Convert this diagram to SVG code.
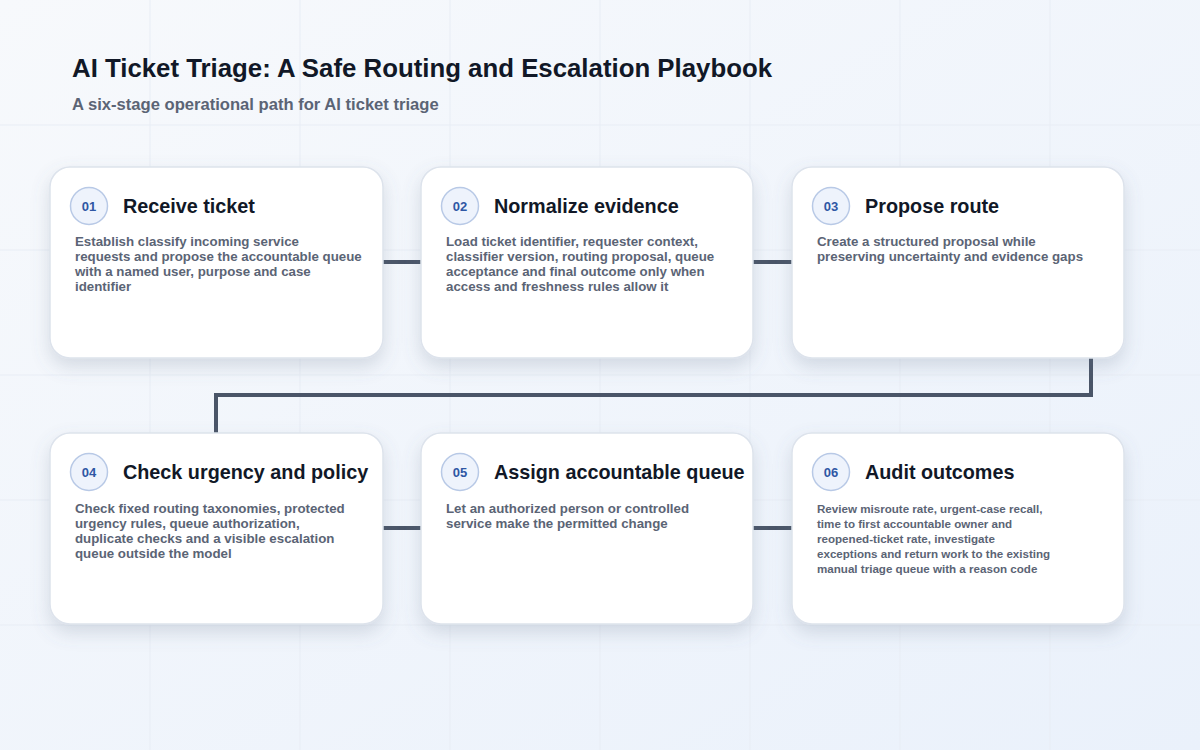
<svg xmlns="http://www.w3.org/2000/svg" width="1200" height="750" viewBox="0 0 1200 750">
<defs>
<linearGradient id="bg" x1="0" y1="0" x2="1" y2="1">
<stop offset="0" stop-color="#f7f9fc"/>
<stop offset="1" stop-color="#eaf1fb"/>
</linearGradient>
<filter id="sh" x="-20%" y="-20%" width="140%" height="150%">
<feGaussianBlur in="SourceAlpha" stdDeviation="9"/>
<feOffset dy="8" result="b"/>
<feFlood flood-color="#64748b" flood-opacity="0.22"/>
<feComposite in2="b" operator="in"/>
<feMerge><feMergeNode/><feMergeNode in="SourceGraphic"/></feMerge>
</filter>
</defs>
<style>
.card{fill:#ffffff;stroke:#dde3ec;stroke-width:1.5}
.badge{fill:#eef3fc;stroke:#b8c9e6;stroke-width:1.5}
.num{font-family:"Liberation Sans",Arial,sans-serif;font-weight:bold;font-size:13px;fill:#2f57a4;text-anchor:middle}
.ttl{font-family:"Liberation Sans",Arial,sans-serif;font-weight:bold;font-size:19.8px;fill:#111827}
.body{font-family:"Liberation Sans",Arial,sans-serif;font-weight:bold;font-size:13.3px;fill:#5b6475}
.small{font-size:11.6px}
.grid{stroke:#e8edf5;stroke-width:1}
.conn{fill:none;stroke:#4a5568;stroke-width:4}
</style>
<rect width="1200" height="750" fill="url(#bg)"/>
<g id="grid">
<line class="grid" x1="150" y1="0" x2="150" y2="750"/>
<line class="grid" x1="300" y1="0" x2="300" y2="750"/>
<line class="grid" x1="450" y1="0" x2="450" y2="750"/>
<line class="grid" x1="600" y1="0" x2="600" y2="750"/>
<line class="grid" x1="750" y1="0" x2="750" y2="750"/>
<line class="grid" x1="900" y1="0" x2="900" y2="750"/>
<line class="grid" x1="1050" y1="0" x2="1050" y2="750"/>
<line class="grid" x1="0" y1="125" x2="1200" y2="125"/>
<line class="grid" x1="0" y1="250" x2="1200" y2="250"/>
<line class="grid" x1="0" y1="375" x2="1200" y2="375"/>
<line class="grid" x1="0" y1="500" x2="1200" y2="500"/>
<line class="grid" x1="0" y1="625" x2="1200" y2="625"/>
</g>
<g id="header">
<text x="72" y="77" font-family="Liberation Sans,Arial,sans-serif" font-weight="bold" font-size="25.8" fill="#111827">AI Ticket Triage: A Safe Routing and Escalation Playbook</text>
<text x="72" y="110" font-family="Liberation Sans,Arial,sans-serif" font-weight="bold" font-size="16.6" fill="#5b6475">A six-stage operational path for AI ticket triage</text>
</g>
<g id="connectors">
<line class="conn" x1="383" y1="262" x2="421" y2="262"/>
<line class="conn" x1="753" y1="262" x2="792" y2="262"/>
<polyline class="conn" points="1091,358 1091,395 216,395 216,433"/>
<line class="conn" x1="383" y1="528" x2="421" y2="528"/>
<line class="conn" x1="753" y1="528" x2="792" y2="528"/>
</g>
<g id="node1">
<rect class="card" x="50" y="167" width="333" height="191" rx="20" filter="url(#sh)"/>
<circle class="badge" cx="89" cy="206" r="18.5"/>
<text class="num" x="89" y="211">01</text>
<text class="ttl" x="123" y="213">Receive ticket</text>
<text class="body" x="75" y="246">Establish classify incoming service</text>
<text class="body" x="75" y="261">requests and propose the accountable queue</text>
<text class="body" x="75" y="276">with a named user, purpose and case</text>
<text class="body" x="75" y="291">identifier</text>
</g>
<g id="node2">
<rect class="card" x="421" y="167" width="332" height="191" rx="20" filter="url(#sh)"/>
<circle class="badge" cx="460" cy="206" r="18.5"/>
<text class="num" x="460" y="211">02</text>
<text class="ttl" x="494" y="213">Normalize evidence</text>
<text class="body" x="446" y="246">Load ticket identifier, requester context,</text>
<text class="body" x="446" y="261">classifier version, routing proposal, queue</text>
<text class="body" x="446" y="276">acceptance and final outcome only when</text>
<text class="body" x="446" y="291">access and freshness rules allow it</text>
</g>
<g id="node3">
<rect class="card" x="792" y="167" width="332" height="191" rx="20" filter="url(#sh)"/>
<circle class="badge" cx="831" cy="206" r="18.5"/>
<text class="num" x="831" y="211">03</text>
<text class="ttl" x="865" y="213">Propose route</text>
<text class="body" x="817" y="246">Create a structured proposal while</text>
<text class="body" x="817" y="261">preserving uncertainty and evidence gaps</text>
</g>
<g id="node4">
<rect class="card" x="50" y="433" width="333" height="191" rx="20" filter="url(#sh)"/>
<circle class="badge" cx="89" cy="472" r="18.5"/>
<text class="num" x="89" y="477">04</text>
<text class="ttl" x="123" y="479">Check urgency and policy</text>
<text class="body" x="75" y="513">Check fixed routing taxonomies, protected</text>
<text class="body" x="75" y="528">urgency rules, queue authorization,</text>
<text class="body" x="75" y="543">duplicate checks and a visible escalation</text>
<text class="body" x="75" y="558">queue outside the model</text>
</g>
<g id="node5">
<rect class="card" x="421" y="433" width="332" height="191" rx="20" filter="url(#sh)"/>
<circle class="badge" cx="460" cy="472" r="18.5"/>
<text class="num" x="460" y="477">05</text>
<text class="ttl" x="494" y="479">Assign accountable queue</text>
<text class="body" x="446" y="513">Let an authorized person or controlled</text>
<text class="body" x="446" y="528">service make the permitted change</text>
</g>
<g id="node6">
<rect class="card" x="792" y="433" width="332" height="191" rx="20" filter="url(#sh)"/>
<circle class="badge" cx="831" cy="472" r="18.5"/>
<text class="num" x="831" y="477">06</text>
<text class="ttl" x="865" y="479">Audit outcomes</text>
<text class="body small" x="817" y="513">Review misroute rate, urgent-case recall,</text>
<text class="body small" x="817" y="528">time to first accountable owner and</text>
<text class="body small" x="817" y="543">reopened-ticket rate, investigate</text>
<text class="body small" x="817" y="558">exceptions and return work to the existing</text>
<text class="body small" x="817" y="573">manual triage queue with a reason code</text>
</g>
</svg>
